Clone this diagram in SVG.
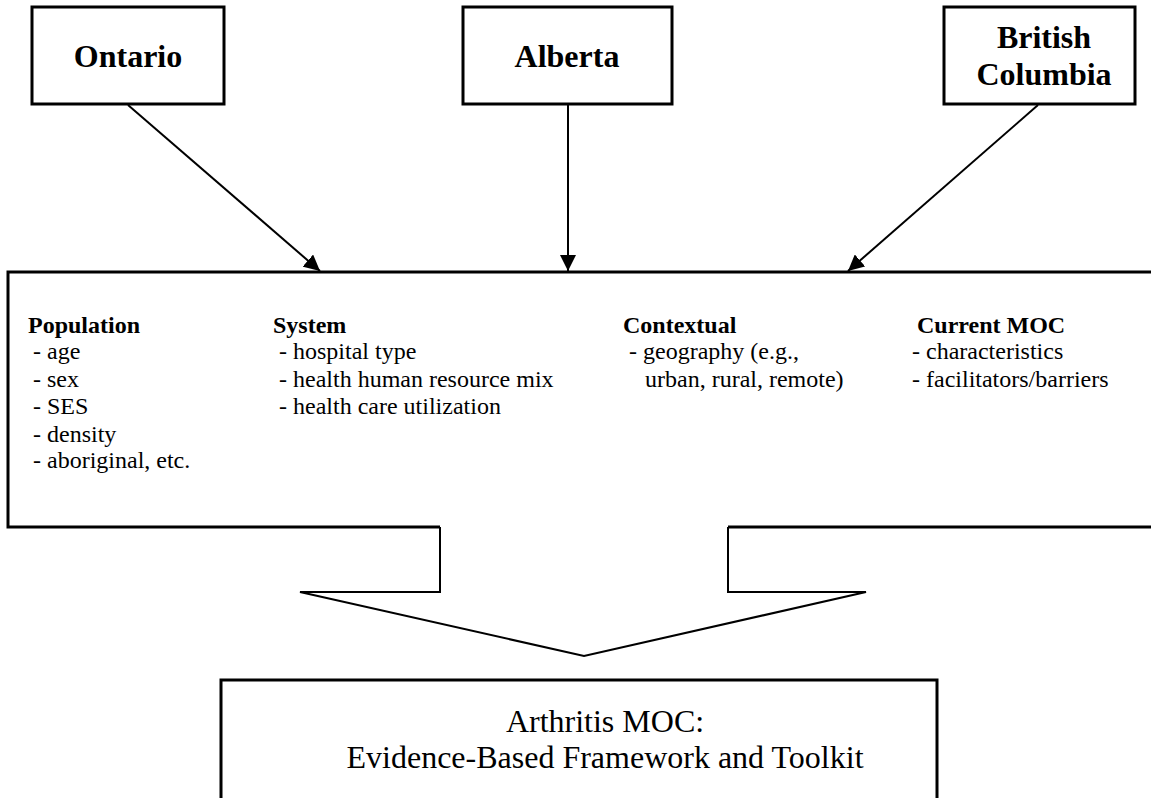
<svg xmlns="http://www.w3.org/2000/svg" width="1151" height="798" viewBox="0 0 1151 798">
<style>
.box{fill:#fff;stroke:#000;stroke-width:3}
.t{font-family:'Liberation Serif','Times New Roman',Times,Tinos,'Nimbus Roman','Nimbus Roman No9 L',FreeSerif,serif;fill:#000}
.h{font-size:32px;font-weight:bold;text-anchor:middle}
.b{font-size:24px;font-weight:bold}
.r{font-size:24px}
.c{font-size:32px;text-anchor:middle}
.ln{stroke:#000;stroke-width:2;fill:none}
</style>
<defs>
<marker id="ah" viewBox="0 0 10 10" refX="10" refY="5" markerWidth="8" markerHeight="8" markerUnits="strokeWidth" orient="auto">
<path d="M0,0 L10,5 L0,10 z" fill="#000"/>
</marker>
</defs>
<rect width="1151" height="798" fill="#fff"/>
<g id="ontario"><rect class="box" x="32" y="7" width="192" height="97"/><text class="t h" x="128" y="67">Ontario</text></g>
<g id="alberta"><rect class="box" x="463" y="7" width="209" height="97"/><text class="t h" x="567" y="67">Alberta</text></g>
<g id="bc"><rect class="box" x="944" y="7" width="191" height="97"/><text class="t h" x="1044" y="48">British</text><text class="t h" x="1044" y="85">Columbia</text></g>
<g id="factors">
<path d="M1155,272 L8,272 L8,527 L440,527 M728,527 L1155,527" fill="none" stroke="#000" stroke-width="3"/>
<text class="t b" x="28" y="333">Population</text>
<text class="t r" x="33" y="359">- age</text>
<text class="t r" x="33" y="387">- sex</text>
<text class="t r" x="33" y="414">- SES</text>
<text class="t r" x="33" y="442">- density</text>
<text class="t r" x="33" y="468">- aboriginal, etc.</text>
<text class="t b" x="273" y="333">System</text>
<text class="t r" x="279" y="359">- hospital type</text>
<text class="t r" x="279" y="387">- health human resource mix</text>
<text class="t r" x="279" y="414">- health care utilization</text>
<text class="t b" x="623" y="333">Contextual</text>
<text class="t r" x="629" y="359">- geography (e.g.,</text>
<text class="t r" x="645" y="387">urban, rural, remote)</text>
<text class="t b" x="917" y="333">Current MOC</text>
<text class="t r" x="912" y="359">- characteristics</text>
<text class="t r" x="912" y="387">- facilitators/barriers</text>
</g>
<g id="block-arrow">
<path class="ln" d="M440,527 L440,592 L300,592 L584,656 L866,592 L728,592 L728,527" stroke-width="2.5"/>
</g>
<g id="framework"><rect class="box" x="221" y="680" width="716" height="140"/>
<text class="t c" x="605" y="732">Arthritis MOC:</text>
<text class="t c" x="605" y="768">Evidence-Based Framework and Toolkit</text></g>
<g id="connectors">
<line class="ln" x1="128" y1="105" x2="320" y2="271" marker-end="url(#ah)"/>
<line class="ln" x1="568" y1="105" x2="568" y2="271" marker-end="url(#ah)"/>
<line class="ln" x1="1038" y1="105" x2="848" y2="271" marker-end="url(#ah)"/>
</g>
</svg>
